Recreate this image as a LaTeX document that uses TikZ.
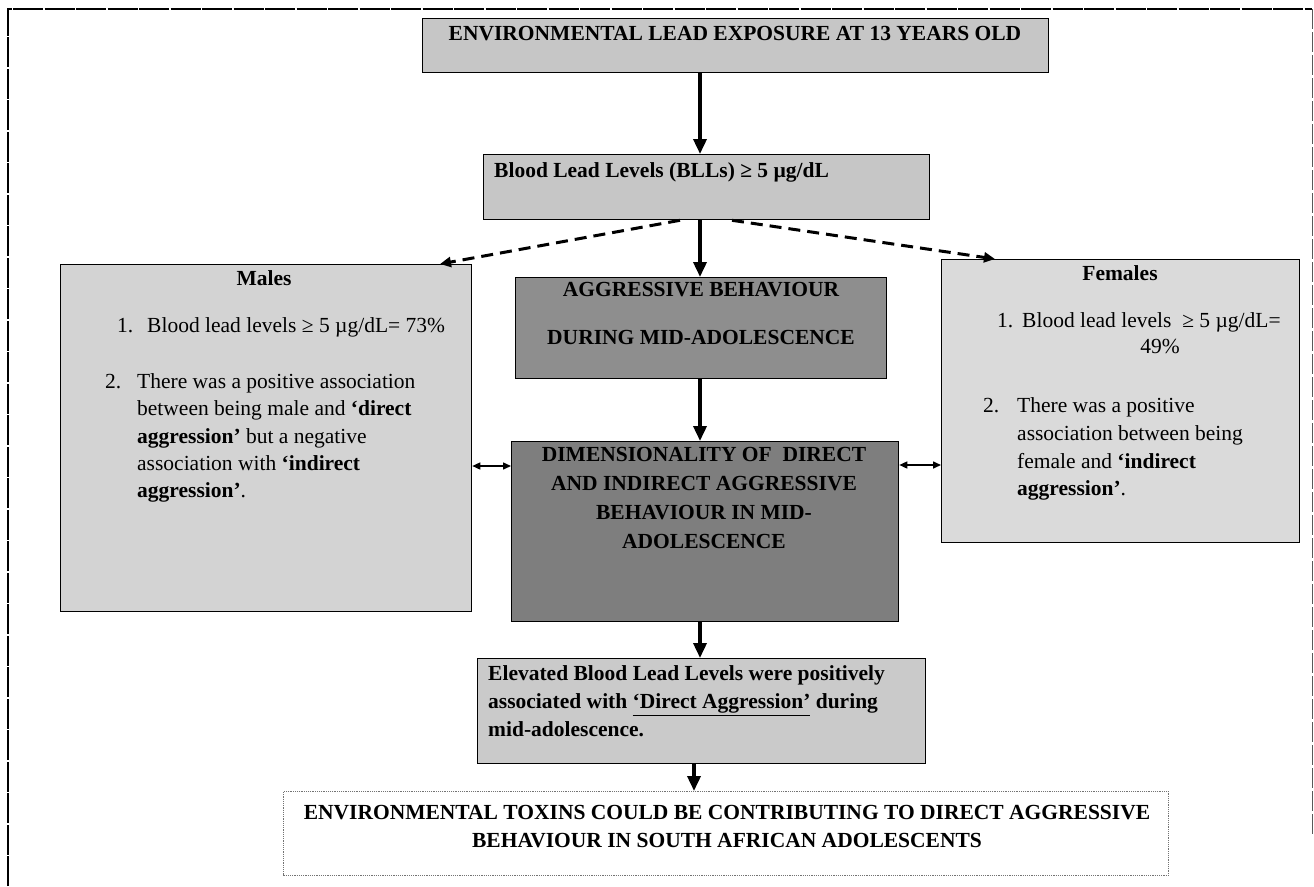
\documentclass[tikz,border=0pt]{standalone}
\usepackage{fontspec}
\setmainfont{Liberation Serif}
\usetikzlibrary{arrows.meta}
\definecolor{topfill}{HTML}{C6C6C6}
\definecolor{sidefill}{HTML}{D3D3D3}
\definecolor{aggrfill}{HTML}{8E8E8E}
\definecolor{dimfill}{HTML}{7E7E7E}
\definecolor{elevfill}{HTML}{CACACA}
\tikzset{
  box/.style={draw=black, line width=1.3pt, anchor=north west, inner sep=0pt},
  txt/.style={inner sep=0pt, font=\fontsize{21.5}{27.5}\selectfont},
  btxt/.style={inner sep=0pt, font=\fontsize{21.5}{28}\selectfont\bfseries},
  arr/.style={line width=3.5pt, -{Triangle[length=15pt,width=13pt]}},
  darr/.style={line width=3pt, dash pattern=on 12pt off 7pt, -{Triangle[length=11pt,width=10pt]}},
  biarr/.style={line width=1.5pt, {Triangle[length=8pt,width=7pt]}-{Triangle[length=8pt,width=7pt]}},
}
\begin{document}
\begin{tikzpicture}[x=1pt,y=-1pt]
\useasboundingbox (0,0) rectangle (1314,886);
% outer frame (open at the bottom)
\draw[line width=1.2pt, dash pattern=on 30pt off 1.5pt] (8,886) -- (8,9) -- (1312,9);
\draw[line width=1pt, black!65, dash pattern=on 20pt off 3pt] (1312,9) -- (1312,835);

% boxes
\node[box, fill=topfill, minimum width=626pt, minimum height=54pt] (top) at (422,18) {};
\node[box, fill=topfill, minimum width=446pt, minimum height=65pt] (blood) at (483,154) {};
\node[box, fill=sidefill, minimum width=411pt, minimum height=347pt] (males) at (60,264) {};
\node[box, fill=sidefill!85!white, minimum width=358pt, minimum height=283pt] (females) at (941,259) {};
\node[box, fill=aggrfill, minimum width=371pt, minimum height=101pt] (aggr) at (515,277) {};
\node[box, fill=dimfill, minimum width=387pt, minimum height=180pt] (dim) at (511,441) {};
\node[box, fill=elevfill, minimum width=448pt, minimum height=105pt] (elev) at (477,658) {};
\node[box, draw=black!55, line width=0.9pt, dash pattern=on 1.2pt off 1pt, fill=white, minimum width=885pt, minimum height=84pt] (bottom) at (283,791) {};

% texts
\node[btxt, anchor=base] (toptxt) at (735,40) {ENVIRONMENTAL LEAD EXPOSURE AT 13 YEARS OLD};
\node[btxt, anchor=base west] (bloodtxt) at (494,177) {Blood Lead Levels (BLLs) ≥ 5 µg/dL};

\node[btxt, anchor=base] (malestitle) at (264,285) {Males};
\node[txt, anchor=base west] (m1n) at (117,332) {1.};
\node[txt, anchor=base west] (m1) at (147,332) {Blood lead levels ≥ 5 µg/dL= 73\%};
\node[txt, anchor=base west] (m2n) at (105,388) {2.};
\node[txt, anchor=north west, align=left, font=\fontsize{21.5}{27.3}\selectfont] (m2) at (137,373.5)
  {There was a positive association\\
   between being male and \textbf{‘direct}\\
   \textbf{aggression’} but a negative\\
   association with \textbf{‘indirect}\\
   \textbf{aggression’}.};

\node[btxt, anchor=base] (femtitle) at (1120,280) {Females};
\node[txt, anchor=base west] (f1n) at (997,327) {1.};
\node[txt, anchor=base west] (f1) at (1022,327) {Blood lead levels \ ≥ 5 µg/dL=};
\node[txt, anchor=base] (f1b) at (1160,353) {49\%};
\node[txt, anchor=base west] (f2n) at (983,412) {2.};
\node[txt, anchor=north west, align=left, font=\fontsize{21.5}{27.7}\selectfont] (f2) at (1017,397.5)
  {There was a positive\\
   association between being\\
   female and \textbf{‘indirect}\\
   \textbf{aggression’}.};

\node[btxt, anchor=north, align=center, font=\fontsize{21.5}{48}\selectfont\bfseries] (aggrtxt) at (701,282.5)
  {AGGRESSIVE BEHAVIOUR\\ DURING MID-ADOLESCENCE};
\node[btxt, anchor=north, align=center, font=\fontsize{21.5}{28.7}\selectfont\bfseries] (dimtxt) at (704,447.5)
  {DIMENSIONALITY OF \ DIRECT\\ AND INDIRECT AGGRESSIVE\\ BEHAVIOUR IN MID-\\ ADOLESCENCE};
\node[btxt, anchor=north west, align=left] (elevtxt) at (488,665.5)
  {Elevated Blood Lead Levels were positively\\
   associated with \underline{‘Direct Aggression’} during\\
   mid-adolescence.};
\node[btxt, anchor=north, align=center] (bottxt) at (727,805.5)
  {ENVIRONMENTAL TOXINS COULD BE CONTRIBUTING TO DIRECT AGGRESSIVE\\
   BEHAVIOUR IN SOUTH AFRICAN ADOLESCENTS};

% connector reference coordinates
\coordinate (sx) at (700,0);
\coordinate (sx2) at (694,0);
\coordinate (dl) at (680,0);
\coordinate (ml) at (440,0);
\coordinate (dr) at (732,0);
\coordinate (fr) at (995,0);
\coordinate (ly) at (0,466);
\coordinate (ry) at (0,465);

% connectors
\draw[arr] (top.south -| sx) -- (blood.north -| sx);
\draw[arr] (blood.south -| sx) -- (aggr.north -| sx);
\draw[arr] (aggr.south -| sx) -- (dim.north -| sx);
\draw[arr] (dim.south -| sx) -- (elev.north -| sx);
\draw[arr] (elev.south -| sx2) -- (bottom.north -| sx2);
\draw[darr] (blood.south -| dl) -- (males.north -| ml);
\draw[darr] (blood.south -| dr) -- (females.north -| fr);
\draw[biarr] (males.east |- ly) -- (dim.west |- ly);
\draw[biarr] (dim.east |- ry) -- (females.west |- ry);
\end{tikzpicture}
\end{document}
